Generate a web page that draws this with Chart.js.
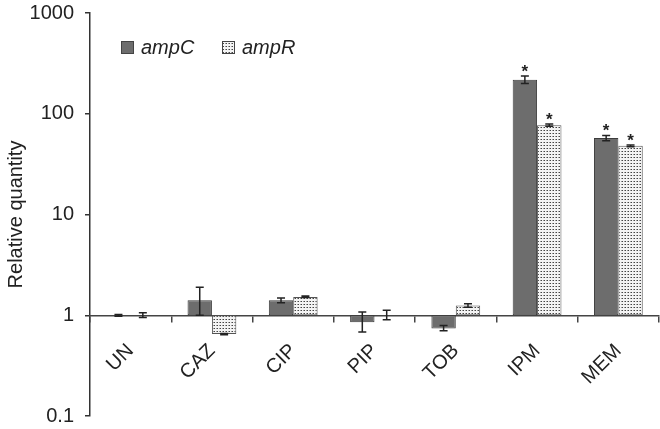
<!DOCTYPE html>
<html>
<head>
<meta charset="utf-8">
<script src="https://cdn.jsdelivr.net/npm/chart.js@4/dist/chart.umd.min.js"></script>
<style>
html,body{margin:0;padding:0;background:#fff;}
#wrap{width:660px;height:429px;position:relative;}
</style>
</head>
<body>
<div id="wrap"><canvas id="c"></canvas></div>
<script>
const categories = ['UN', 'CAZ', 'CIP', 'PIP', 'TOB', 'IPM', 'MEM'];
const ampC = [1.0, 1.41, 1.41, 0.85, 0.74, 217, 57.5];
const ampR = [1.0, 0.65, 1.52, 1.0, 1.25, 77, 48];
const ampCLow = [0.98, 1.0, 1.33, 0.68, 0.70, 200, 54];
const ampCHigh = [1.02, 1.9, 1.48, 1.08, 0.79, 237, 61];
const ampRLow = [0.95, 0.64, 1.50, 0.90, 1.20, 75, 47];
const ampRHigh = [1.06, 0.66, 1.55, 1.12, 1.30, 79, 49];
const ampCSig = [false, false, false, false, false, true, true];
const ampRSig = [false, false, false, false, false, true, true];
const yTicks = [0.1, 1, 10, 100, 1000];
const seriesNames = ['ampC', 'ampR'];

const FONT = '"Liberation Sans", Arial, Helvetica, sans-serif';
const TXT = '#222';

function dotPattern() {
  const p = document.createElement('canvas');
  p.width = 3; p.height = 3;
  const g = p.getContext('2d');
  g.fillStyle = '#f4f4f4';
  g.fillRect(0, 0, 3, 3);
  g.fillStyle = '#9a9a9a';
  g.fillRect(0, 1, 1, 1);
  g.fillStyle = '#444';
  g.fillRect(1, 1, 1, 1);
  return document.getElementById('c').getContext('2d').createPattern(p, 'repeat');
}
const patR = dotPattern();
const fillC = '#6d6d6d';

const errLow = [ampCLow, ampRLow];
const errHigh = [ampCHigh, ampRHigh];
const sig = [ampCSig, ampRSig];

const errorBars = {
  id: 'errorBars',
  afterDatasetsDraw(chart) {
    const ctx = chart.ctx;
    const y = chart.scales.y;
    ctx.save();
    ctx.strokeStyle = '#222';
    ctx.lineWidth = 1.5;
    chart.data.datasets.forEach((ds, i) => {
      const meta = chart.getDatasetMeta(i);
      meta.data.forEach((el, j) => {
        const x = el.x;
        const yl = y.getPixelForValue(errLow[i][j]);
        const yh = y.getPixelForValue(errHigh[i][j]);
        ctx.beginPath();
        ctx.moveTo(x, yl); ctx.lineTo(x, yh);
        ctx.moveTo(x - 4, yl); ctx.lineTo(x + 4, yl);
        ctx.moveTo(x - 4, yh); ctx.lineTo(x + 4, yh);
        ctx.stroke();
        if (sig[i][j]) {
          ctx.fillStyle = '#222';
          ctx.font = 'bold 17px ' + FONT;
          ctx.textAlign = 'center';
          ctx.textBaseline = 'alphabetic';
          ctx.fillText('*', x, yh + 1);
        }
      });
    });
    ctx.restore();
  }
};

const legendPlugin = {
  id: 'customLegend',
  afterDraw(chart) {
    const ctx = chart.ctx;
    ctx.save();
    const items = [
      {x: 121, fill: fillC, label: seriesNames[0]},
      {x: 222, fill: patR, label: seriesNames[1]}
    ];
    items.forEach(it => {
      ctx.fillStyle = it.fill;
      ctx.fillRect(it.x, 41, 13, 13);
      ctx.strokeStyle = '#444';
      ctx.lineWidth = 1;
      ctx.strokeRect(it.x + 0.5, 41.5, 12, 12);
      ctx.fillStyle = TXT;
      ctx.font = 'italic 20px ' + FONT;
      ctx.textAlign = 'left';
      ctx.textBaseline = 'middle';
      ctx.fillText(it.label, it.x + 20, 48);
    });
    ctx.restore();
  }
};

new Chart(document.getElementById('c'), {
  type: 'bar',
  data: {
    labels: categories,
    datasets: [
      {
        label: seriesNames[0],
        data: ampC.map(v => [1, v]),
        backgroundColor: fillC,
        borderColor: '#3c3c3c',
        borderWidth: 1,
        borderSkipped: false
      },
      {
        label: seriesNames[1],
        data: ampR.map(v => [1, v]),
        backgroundColor: patR,
        borderColor: '#555',
        borderWidth: 1,
        borderSkipped: false
      }
    ]
  },
  options: {
    responsive: true,
    maintainAspectRatio: false,
    animation: false,
    categoryPercentage: 0.6,
    barPercentage: 1.0,
    layout: {padding: {top: 13, bottom: 13, left: 0, right: 1}},
    plugins: {legend: {display: false}, tooltip: {enabled: false}},
    scales: {
      y: {
        type: 'logarithmic',
        position: 'left',
        min: 0.1,
        max: 1000,
        afterBuildTicks(scale) { scale.ticks = yTicks.map(v => ({value: v})); },
        afterFit(scale) { scale.width = 90; scale.paddingTop = 0; scale.paddingBottom = 0; },
        ticks: {
          callback: v => String(v),
          font: {family: FONT, size: 20},
          color: TXT,
          padding: 11,
          autoSkip: false
        },
        grid: {display: true, drawOnChartArea: false, drawTicks: true, tickLength: 5, color: '#333', lineWidth: 1.5},
        border: {display: true, color: '#333', width: 1.5},
        title: {display: true, text: 'Relative quantity', font: {family: FONT, size: 20}, color: TXT, padding: {top: 4, bottom: 0}}
      },
      x: {
        position: {y: 1},
        offset: true,
        afterFit(scale) { scale.paddingLeft = 0; scale.paddingRight = 0; },
        ticks: {
          font: {family: FONT, size: 20},
          color: TXT,
          minRotation: 45,
          maxRotation: 45,
          padding: 18,
          autoSkip: false
        },
        grid: {display: true, offset: true, drawOnChartArea: false, drawTicks: true, tickLength: 6, color: '#444', lineWidth: 1.5},
        border: {display: true, color: '#444', width: 1.5}
      }
    }
  },
  plugins: [errorBars, legendPlugin]
});
</script>
</body>
</html>
